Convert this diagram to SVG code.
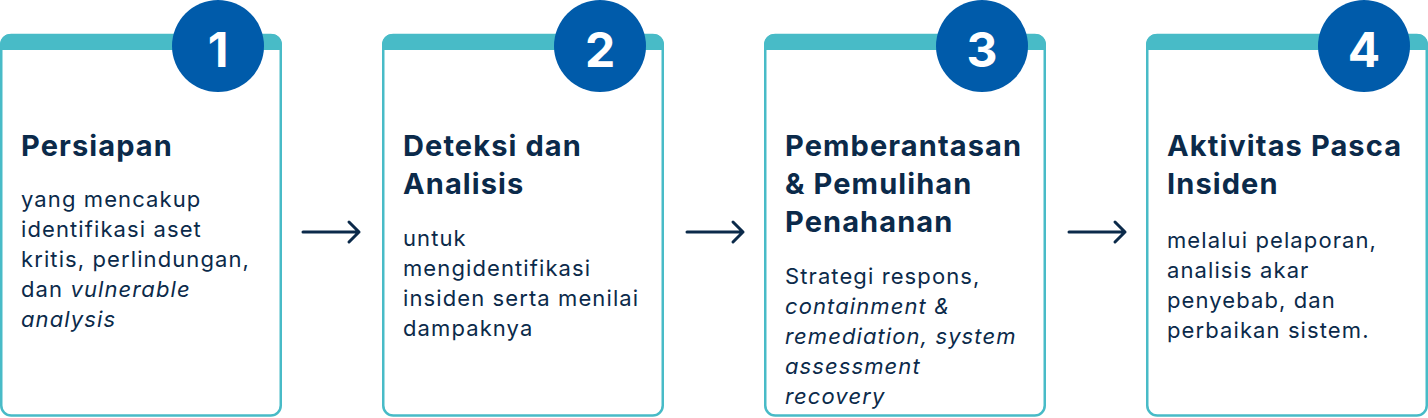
<svg xmlns="http://www.w3.org/2000/svg" width="1428" height="418" viewBox="0 0 1428 418">
<style>
.card{fill:#fff;stroke:#48BBC7;stroke-width:2.5}
.band{fill:#48BBC7}
.badge{fill:#005BAA}
.num{fill:#fff;font-family:Inter,"Liberation Sans",sans-serif;font-weight:700;font-size:48px;text-anchor:middle}
.title{fill:#0B2A4A;font-family:Inter,"Liberation Sans",sans-serif;font-weight:700;font-size:29px;letter-spacing:1.1px}
.body{fill:#0B2A4A;font-family:Inter,"Liberation Sans",sans-serif;font-size:22px;letter-spacing:1.1px}
.it{font-style:italic}
.arrow{fill:none;stroke:#0B2A4A;stroke-width:3;stroke-linecap:round;stroke-linejoin:round}
</style>
<g id="node1">
<rect class="card" x="1.25" y="35" width="279.5" height="380.5" rx="10"/>
<path class="band" d="M0 50 V44 A10 10 0 0 1 10 34 H272 A10 10 0 0 1 282 44 V50 Z"/>
<circle class="badge" cx="218" cy="46" r="46"/>
<text class="num" x="218" y="67">1</text>
<text class="title" x="21" y="156">Persiapan</text>
<text class="body" x="21" y="207">yang mencakup</text>
<text class="body" x="21" y="237">identifikasi aset</text>
<text class="body" x="21" y="267">kritis, perlindungan,</text>
<text class="body" x="21" y="297">dan <tspan class="it">vulnerable</tspan></text>
<text class="body it" x="21" y="327">analysis</text>
</g>
<g id="node2">
<rect class="card" x="383.25" y="35" width="279.5" height="380.5" rx="10"/>
<path class="band" d="M382 50 V44 A10 10 0 0 1 392 34 H654 A10 10 0 0 1 664 44 V50 Z"/>
<circle class="badge" cx="600" cy="46" r="46"/>
<text class="num" x="600" y="67">2</text>
<text class="title" x="403" y="156">Deteksi dan</text>
<text class="title" x="403" y="194">Analisis</text>
<text class="body" x="403" y="246">untuk</text>
<text class="body" x="403" y="276">mengidentifikasi</text>
<text class="body" x="403" y="306">insiden serta menilai</text>
<text class="body" x="403" y="336">dampaknya</text>
</g>
<g id="node3">
<rect class="card" x="765.25" y="35" width="279.5" height="380.5" rx="10"/>
<path class="band" d="M764 50 V44 A10 10 0 0 1 774 34 H1036 A10 10 0 0 1 1046 44 V50 Z"/>
<circle class="badge" cx="982" cy="46" r="46"/>
<text class="num" x="982" y="67">3</text>
<text class="title" x="785" y="156">Pemberantasan</text>
<text class="title" x="785" y="194">&amp; Pemulihan</text>
<text class="title" x="785" y="232">Penahanan</text>
<text class="body" x="785" y="284">Strategi respons,</text>
<text class="body it" x="785" y="314">containment &amp;</text>
<text class="body it" x="785" y="344">remediation, system</text>
<text class="body it" x="785" y="374">assessment</text>
<text class="body it" x="785" y="404">recovery</text>
</g>
<g id="node4">
<rect class="card" x="1147.25" y="35" width="279.5" height="380.5" rx="10"/>
<path class="band" d="M1146 50 V44 A10 10 0 0 1 1156 34 H1418 A10 10 0 0 1 1428 44 V50 Z"/>
<circle class="badge" cx="1364" cy="46" r="46"/>
<text class="num" x="1364" y="67">4</text>
<text class="title" x="1167" y="156">Aktivitas Pasca</text>
<text class="title" x="1167" y="194">Insiden</text>
<text class="body" x="1167" y="248">melalui pelaporan,</text>
<text class="body" x="1167" y="278">analisis akar</text>
<text class="body" x="1167" y="308">penyebab, dan</text>
<text class="body" x="1167" y="338">perbaikan sistem.</text>
</g>
<g id="connectors">
<path class="arrow" d="M303 232 H359 M349 222 L359 232 L349 242"/>
<path class="arrow" d="M687 232 H743 M733 222 L743 232 L733 242"/>
<path class="arrow" d="M1069 232 H1125 M1115 222 L1125 232 L1115 242"/>
</g>
</svg>
